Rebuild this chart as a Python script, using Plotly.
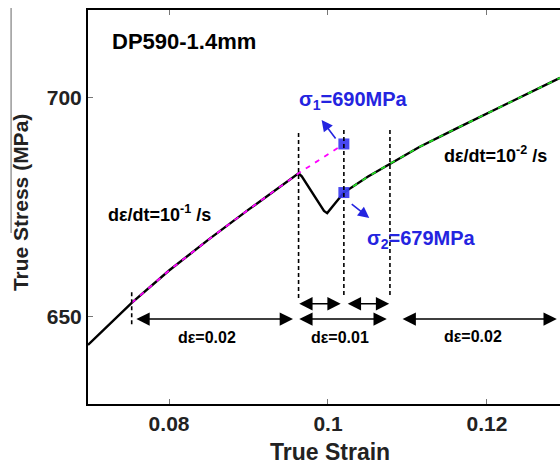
import plotly.graph_objects as go

# ---- data ----
strain = [0.0698, 0.0753, 0.080, 0.085, 0.090, 0.0963, 0.0967, 0.0995, 0.0999,
          0.102, 0.105, 0.108, 0.1115, 0.116, 0.1204, 0.125, 0.1292]
stress = [643.6, 653.2, 660.6, 667.7, 674.5, 682.8, 682.1, 674.2, 673.7,
          678.4, 682.0, 685.2, 688.8, 692.9, 696.8, 700.9, 704.6]

fit1_strain = [0.0753, 0.080, 0.085, 0.090, 0.0963, 0.102]
fit1_stress = [653.2, 660.6, 667.7, 674.5, 682.8, 689.5]

fit2_strain = [0.102, 0.105, 0.108, 0.1115, 0.116, 0.1204, 0.125, 0.1292]
fit2_stress = [678.4, 682.0, 685.2, 688.8, 692.9, 696.8, 700.9, 704.6]

sigma_strain = [0.102, 0.102]
sigma_stress = [689.5, 678.4]

x_ticks = [0.08, 0.10, 0.12]
x_ticktext = ["0.08", "0.1", "0.12"]
y_ticks = [650, 700]

FONT = "Liberation Sans, Arial, sans-serif"
BLUE = "#2424e0"

fig = go.Figure()
fig.add_trace(go.Scatter(x=strain, y=stress, mode="lines",
                         line=dict(color="black", width=2.4), showlegend=False))
fig.add_trace(go.Scatter(x=fit1_strain, y=fit1_stress, mode="lines",
                         line=dict(color="#ff00ff", width=1.8, dash="5px,6px"), showlegend=False))
fig.add_trace(go.Scatter(x=fit2_strain, y=fit2_stress, mode="lines",
                         line=dict(color="#22dd22", width=1.8, dash="5px,6px"), showlegend=False))
fig.add_trace(go.Scatter(x=sigma_strain, y=sigma_stress, mode="markers",
                         marker=dict(symbol="square", size=11, color="#3535f0", opacity=0.9),
                         showlegend=False))

# vertical dashed guide lines
vlines = [(0.0753, 648.3, 655.6), (0.0963, 654.3, 692.7), (0.1020, 655.0, 693.2), (0.1078, 655.0, 693.2)]
for xv, y0, y1 in vlines:
    fig.add_shape(type="line", x0=xv, x1=xv, y0=y0, y1=y1, xref="x", yref="y",
                  line=dict(color="black", width=1.6, dash="4px,3px"))

# thin artifact line at far left
fig.add_shape(type="line", xref="paper", yref="paper", x0=-0.163, x1=-0.163,
              y0=1.005, y1=0.434, line=dict(color="#666666", width=1))

annotations = []

def darrow(x0, x1, y):
    annotations.append(dict(x=x1, y=y, ax=x0, ay=y, xref="x", yref="y", axref="x", ayref="y",
                            text="", showarrow=True, arrowhead=2, arrowside="end+start",
                            arrowsize=1.9, arrowwidth=1.4, arrowcolor="black", standoff=0,
                            startstandoff=0))

darrow(0.0757, 0.0956, 649.5)
darrow(0.0962, 0.1074, 649.5)
darrow(0.1092, 0.1288, 649.5)
darrow(0.0962, 0.1016, 653.0)
darrow(0.1023, 0.1077, 653.0)

# blue arrows
annotations.append(dict(x=0.0992, y=695.0, ax=0.1011, ay=690.4, xref="x", yref="y",
                        axref="x", ayref="y", text="", showarrow=True, arrowhead=2,
                        arrowsize=1.4, arrowwidth=1.6, arrowcolor=BLUE))
annotations.append(dict(x=0.1052, y=672.6, ax=0.1028, ay=676.0, xref="x", yref="y",
                        axref="x", ayref="y", text="", showarrow=True, arrowhead=2,
                        arrowsize=1.4, arrowwidth=1.6, arrowcolor=BLUE))

def txt(x, y, s, anchor="left", color="black", size=18):
    annotations.append(dict(x=x, y=y, xref="x", yref="y", text="<b>" + s + "</b>",
                            showarrow=False, xanchor=anchor, yanchor="middle",
                            font=dict(family=FONT, size=size, color=color)))

txt(0.0726, 712.8, "DP590-1.4mm", size=22)
txt(0.0721, 673.7, "dε/dt=10<sup>-1</sup> /s", size=18)
txt(0.1143, 687.0, "dε/dt=10<sup>-2</sup> /s", size=18)
txt(0.0848, 645.2, "dε=0.02", anchor="center", size=16)
txt(0.1015, 645.2, "dε=0.01", anchor="center", size=16)
txt(0.1182, 645.6, "dε=0.02", anchor="center", size=16)
txt(0.0961, 699.5, "σ<sub>1</sub>=690MPa", color=BLUE, size=20)
txt(0.1047, 667.6, "σ<sub>2</sub>=679MPa", color=BLUE, size=20)

# axis titles
annotations.append(dict(x=-0.144, y=0.51, xref="paper", yref="paper", text="<b>True Stress (MPa)</b>",
                        textangle=-90, showarrow=False, xanchor="center", yanchor="middle",
                        font=dict(family=FONT, size=21, color="#222222")))
annotations.append(dict(x=0.513, y=-0.122, xref="paper", yref="paper", text="<b>True Strain</b>",
                        showarrow=False, xanchor="center", yanchor="middle",
                        font=dict(family=FONT, size=23, color="#222222")))

fig.update_layout(
    width=560, height=467,
    margin=dict(l=88, r=0, t=10, b=63),
    paper_bgcolor="white", plot_bgcolor="white",
    annotations=annotations,
    font=dict(family=FONT),
)
fig.update_xaxes(range=[0.0698, 0.1292], tickvals=x_ticks, ticktext=x_ticktext,
                 showgrid=False, zeroline=False, showline=True, linecolor="black", linewidth=2,
                 mirror="allticks", ticks="inside", ticklen=5, tickcolor="#777777", tickwidth=1,
                 tickfont=dict(family=FONT, size=21, color="#222222", weight="bold"))
fig.update_yaxes(range=[630.1, 720.1], tickvals=y_ticks,
                 showgrid=False, zeroline=False, showline=True, linecolor="black", linewidth=2,
                 mirror=False, ticks="inside", ticklen=5, tickcolor="#777777", tickwidth=1,
                 tickfont=dict(family=FONT, size=21, color="#222222", weight="bold"))

fig.write_html("out.html")
